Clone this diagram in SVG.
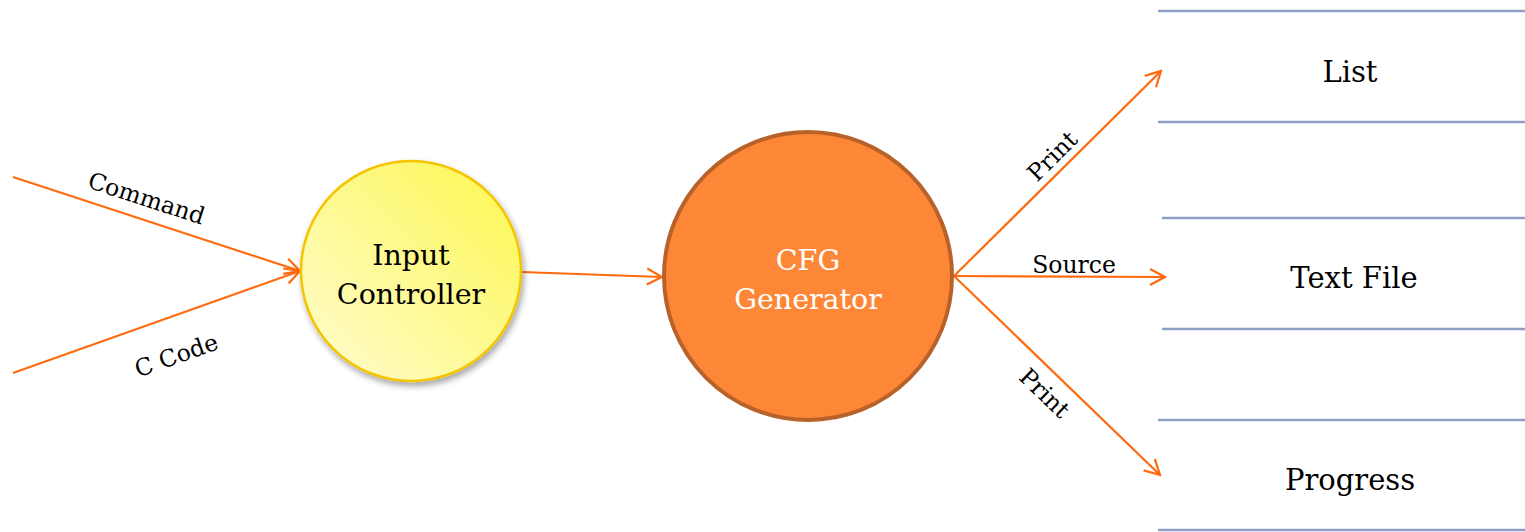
<svg xmlns="http://www.w3.org/2000/svg" width="1525" height="532" viewBox="0 0 1525 532">
<style>
.t{font-family:"DejaVu Serif","Liberation Serif",serif;fill:#000;text-anchor:middle}
.lbl{font-size:23.5px}
.node{font-size:28.5px}
.store{font-size:29px}
.c{stroke:#ff6a0e;stroke-width:2.2;fill:none}
.sl{stroke:#8fa0c4;stroke-width:2.5}
</style>
<defs>
<marker id="ah" viewBox="0 0 20 20" refX="18" refY="10" markerWidth="20" markerHeight="20" markerUnits="userSpaceOnUse" orient="auto">
<path d="M3,2 L18,10 L3,18" fill="none" stroke="#ff6a0e" stroke-width="2.2"/>
</marker>
<linearGradient id="yg" x1="0.15" y1="0.9" x2="0.9" y2="0.15">
<stop offset="0" stop-color="#fffbc2"/>
<stop offset="1" stop-color="#fdf85e"/>
</linearGradient>
<filter id="sh" x="-20%" y="-20%" width="140%" height="140%">
<feGaussianBlur in="SourceAlpha" stdDeviation="3"/>
<feOffset dx="2" dy="4"/>
<feComponentTransfer><feFuncA type="linear" slope="0.35"/></feComponentTransfer>
<feMerge><feMergeNode/><feMergeNode in="SourceGraphic"/></feMerge>
</filter>
</defs>
<g id="connectors">
<line class="c" x1="13" y1="177" x2="300" y2="271" marker-end="url(#ah)"/>
<line class="c" x1="13" y1="373" x2="300" y2="271" marker-end="url(#ah)"/>
<line class="c" x1="521" y1="272" x2="662" y2="277" marker-end="url(#ah)"/>
<line class="c" x1="954" y1="276" x2="1161" y2="71" marker-end="url(#ah)"/>
<line class="c" x1="954" y1="276" x2="1165" y2="277" marker-end="url(#ah)"/>
<line class="c" x1="954" y1="276" x2="1160" y2="475" marker-end="url(#ah)"/>
<text class="t lbl" transform="translate(144,206) rotate(18)">Command</text>
<text class="t lbl" transform="translate(179,363) rotate(-19.5)">C Code</text>
<text class="t lbl" transform="translate(1058,162) rotate(-44.7)">Print</text>
<text class="t lbl" x="1074" y="273">Source</text>
<text class="t lbl" transform="translate(1039,399) rotate(44)">Print</text>
</g>
<g id="input-controller">
<circle cx="411" cy="271" r="110" fill="url(#yg)" stroke="#f5c400" stroke-width="2.5" filter="url(#sh)"/>
<text class="t node" x="411" y="265">Input</text>
<text class="t node" x="411" y="304">Controller</text>
</g>
<g id="cfg-generator">
<circle cx="808" cy="276" r="144" fill="#fd8737" stroke="#b8622a" stroke-width="4"/>
<text class="t node" x="808" y="270" style="fill:#fff">CFG</text>
<text class="t node" x="808" y="309" style="fill:#fff">Generator</text>
</g>
<g id="list">
<line class="sl" x1="1158" y1="11" x2="1525" y2="11"/>
<line class="sl" x1="1158" y1="122" x2="1525" y2="122"/>
<text class="t store" x="1350" y="82">List</text>
</g>
<g id="text-file">
<line class="sl" x1="1162" y1="218" x2="1525" y2="218"/>
<line class="sl" x1="1162" y1="329" x2="1525" y2="329"/>
<text class="t store" x="1354" y="288">Text File</text>
</g>
<g id="progress">
<line class="sl" x1="1158" y1="420" x2="1525" y2="420"/>
<line class="sl" x1="1158" y1="530" x2="1525" y2="530"/>
<text class="t store" x="1350" y="490">Progress</text>
</g>
</svg>
